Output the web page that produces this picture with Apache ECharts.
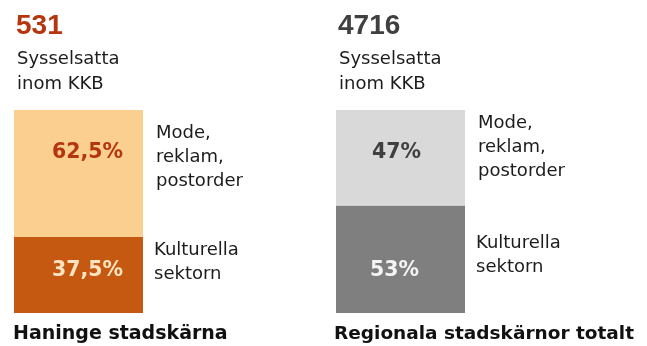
<!DOCTYPE html>
<html>
<head>
<meta charset="utf-8">
<script src="https://cdn.jsdelivr.net/npm/echarts@6/dist/echarts.min.js"></script>
<style>
  html, body { margin: 0; padding: 0; background: #ffffff; }
  #chart { width: 647px; height: 346px; }
</style>
</head>
<body>
<div id="chart"></div>
<script>
// Employment in the cultural and creative industries (KKB)
const regions = ['Haninge stadskärna', 'Regionala stadskärnor totalt'];
const employed = [531, 4716];
const modeShare = [62.5, 47];      // Mode, reklam, postorder (%)
const kulturShare = [37.5, 53];    // Kulturella sektorn (%)
const segmentNames = ['Mode,\nreklam,\npostorder', 'Kulturella\nsektorn'];
const subtitle = 'Sysselsatta\ninom KKB';

const palette = [
  { light: '#FBCF8F', dark: '#C65911', lightText: '#B5360E', darkText: '#FCE3C2', head: '#B5360E' },
  { light: '#D9D9D9', dark: '#7F7F7F', lightText: '#404040', darkText: '#F4F4F4', head: '#404040' }
];

const barLeft = [14, 336];
const barWidth = 129;
const labelShift = [[9, 9], [-4, -6]];

const pct = v => String(v).replace('.', ',') + '%';

const grids = [], xAxes = [], yAxes = [], series = [], graphics = [];
regions.forEach((name, i) => {
  grids.push({ left: barLeft[i], top: 110, width: barWidth, height: 203 });
  xAxes.push({ type: 'category', gridIndex: i, data: [name], show: false });
  yAxes.push({ type: 'value', gridIndex: i, min: 0, max: 100, show: false });
  const labelBase = {
    show: true, fontFamily: 'DejaVu Sans', fontWeight: 'bold', fontSize: 20.5,
    formatter: p => pct(p.value)
  };
  series.push({
    type: 'bar', name: 'Kulturella sektorn', xAxisIndex: i, yAxisIndex: i, stack: 's' + i,
    barWidth: '100%', data: [kulturShare[i]], silent: true,
    itemStyle: { color: palette[i].dark },
    label: Object.assign({}, labelBase, {
      position: 'insideBottom', distance: 32, color: palette[i].darkText,
      offset: [labelShift[i][1], 0]
    })
  });
  series.push({
    type: 'bar', name: 'Mode, reklam, postorder', xAxisIndex: i, yAxisIndex: i, stack: 's' + i,
    barWidth: '100%', data: [modeShare[i]], silent: true,
    itemStyle: { color: palette[i].light },
    label: Object.assign({}, labelBase, {
      position: 'insideTop', distance: 32, color: palette[i].lightText,
      offset: [labelShift[i][0], 0]
    })
  });

  const x0 = barLeft[i] + 3;
  // headline count
  graphics.push({
    type: 'text', left: x0 - 1, top: 12,
    style: { text: String(employed[i]), font: 'bold 28px "Liberation Sans", Arial, sans-serif', fill: palette[i].head }
  });
  graphics.push({
    type: 'text', left: x0, top: 47,
    style: { text: subtitle, font: '18px "DejaVu Sans", sans-serif', lineHeight: 25, fill: '#1c1c1c' }
  });
  // segment names beside the bar
  const legX = [[156, 154], [478, 476]][i];
  const legY = [[121, 238], [111, 231]][i];
  graphics.push({
    type: 'text', left: legX[0], top: legY[0],
    style: { text: segmentNames[0], font: '18px "DejaVu Sans", sans-serif', lineHeight: 24, fill: '#1c1c1c' }
  });
  graphics.push({
    type: 'text', left: legX[1], top: legY[1],
    style: { text: segmentNames[1], font: '18px "DejaVu Sans", sans-serif', lineHeight: 24, fill: '#1c1c1c' }
  });
  // region title under the bar
  graphics.push({
    type: 'text', left: [13, 334][i], top: 325,
    style: { text: name, font: 'bold ' + [19, 18.5][i] + 'px "DejaVu Sans", sans-serif', fill: '#111111' }
  });
});

const chart = echarts.init(document.getElementById('chart'), null, { renderer: 'canvas' });
chart.setOption({
  animation: false,
  backgroundColor: '#ffffff',
  grid: grids,
  xAxis: xAxes,
  yAxis: yAxes,
  series: series,
  graphic: graphics
});
</script>
</body>
</html>
